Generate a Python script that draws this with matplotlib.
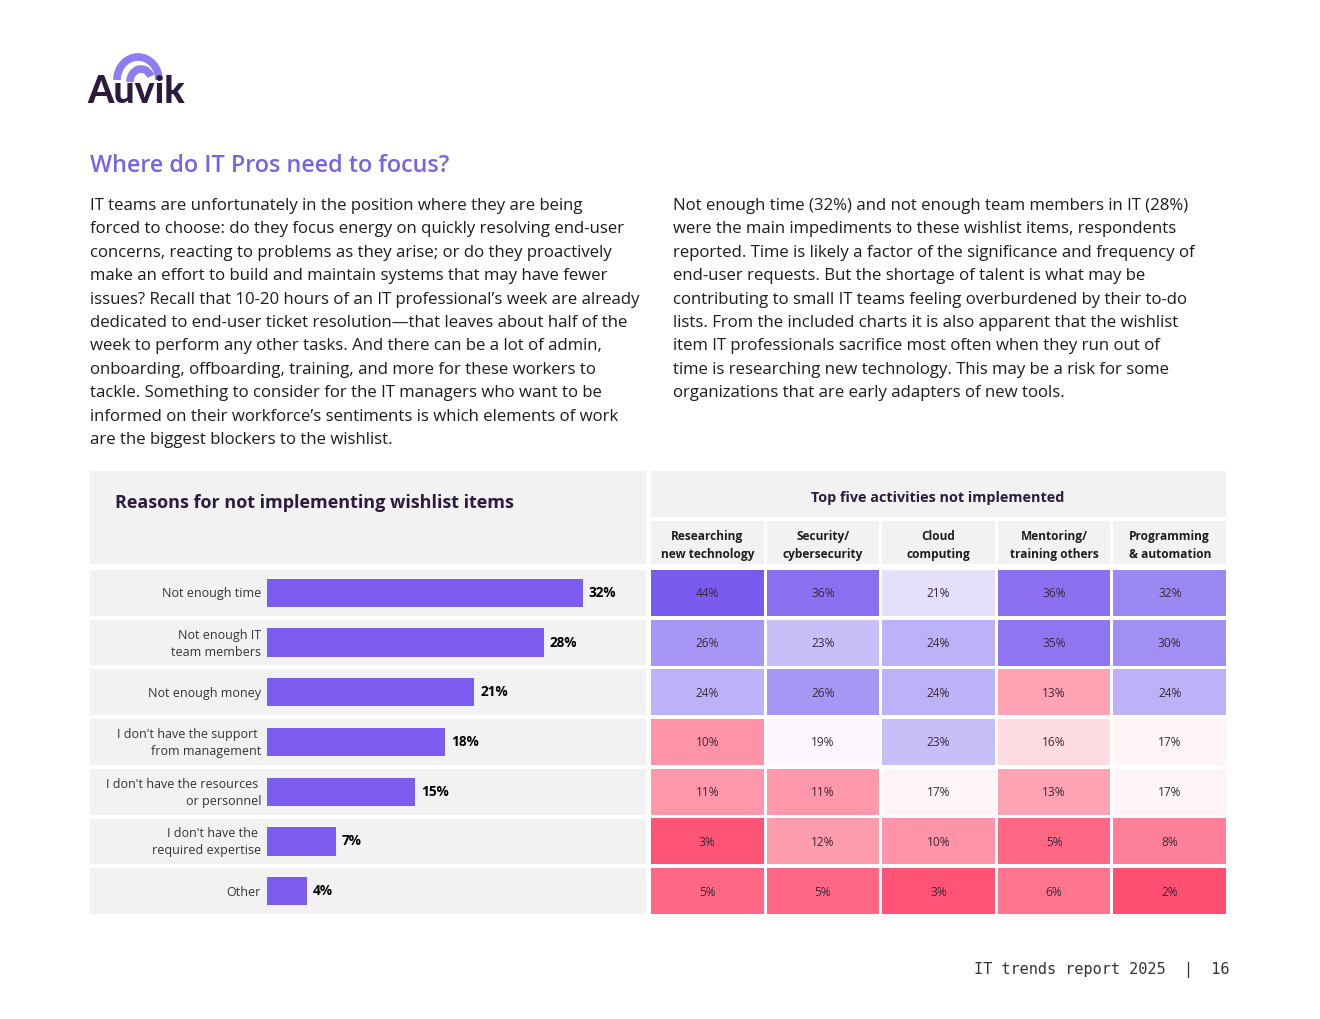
import numpy as np
import matplotlib
matplotlib.use('Agg')
import matplotlib.pyplot as plt
from matplotlib.colors import LinearSegmentedColormap, TwoSlopeNorm
from matplotlib.patches import Rectangle, Arc

# ---- data ----
reasons = ['Not enough time', 'Not enough IT\nteam members', 'Not enough money',
           "I don't have the support \nfrom management",
           "I don't have the resources \nor personnel",
           "I don't have the \nrequired expertise", 'Other']
reason_pct = [32, 28, 21, 18, 15, 7, 4]

activities = ['Researching\nnew technology', 'Security/\ncybersecurity', 'Cloud\ncomputing',
              'Mentoring/\ntraining others', 'Programming\n& automation']
research_pct = [44, 26, 24, 10, 11, 3, 5]
security_pct = [36, 23, 26, 19, 11, 12, 5]
cloud_pct = [21, 24, 24, 23, 17, 10, 3]
mentoring_pct = [36, 35, 13, 16, 13, 5, 6]
programming_pct = [32, 30, 24, 17, 17, 8, 2]

heading = 'Where do IT Pros need to focus?'
left_text = [
    "IT teams are unfortunately in the position where they are being",
    "forced to choose: do they focus energy on quickly resolving end-user",
    "concerns, reacting to problems as they arise; or do they proactively",
    "make an effort to build and maintain systems that may have fewer",
    "issues? Recall that 10-20 hours of an IT professional\u2019s week are already",
    "dedicated to end-user ticket resolution\u2014that leaves about half of the",
    "week to perform any other tasks. And there can be a lot of admin,",
    "onboarding, offboarding, training, and more for these workers to",
    "tackle. Something to consider for the IT managers who want to be",
    "informed on their workforce\u2019s sentiments is which elements of work",
    "are the biggest blockers to the wishlist.",
]
right_text = [
    "Not enough time (32%) and not enough team members in IT (28%)",
    "were the main impediments to these wishlist items, respondents",
    "reported. Time is likely a factor of the significance and frequency of",
    "end-user requests. But the shortage of talent is what may be",
    "contributing to small IT teams feeling overburdened by their to-do",
    "lists. From the included charts it is also apparent that the wishlist",
    "item IT professionals sacrifice most often when they run out of",
    "time is researching new technology. This may be a risk for some",
    "organizations that are early adapters of new tools.",
]

PURPLE = '#7b5cef'
DARK = '#2d1b3d'
GRAY = '#f2f2f2'
FONT = 'Open Sans'

W, H = 1320, 1020
fig = plt.figure(figsize=(W / 100, H / 100), dpi=100)
fig.patch.set_facecolor('white')


def ax_rect(left, top, right, bottom):
    return [left / W, 1 - bottom / H, (right - left) / W, (bottom - top) / H]


# page layer in pixel coordinates
ax0 = fig.add_axes([0, 0, 1, 1])
ax0.set_xlim(0, W)
ax0.set_ylim(H, 0)
ax0.axis('off')

# logo
ax0.add_patch(Arc((138, 81), 42, 46, theta1=180, theta2=360, color='#8f7cf0', lw=5.5))
ax0.add_patch(Arc((141, 83), 22, 26, theta1=180, theta2=330, color='#8f7cf0', lw=5.5))
ax0.text(87, 103, 'Auvik', fontsize=27, fontweight='black', family='Lato',
         color=DARK, ha='left', va='baseline')

ax0.text(90, 166, heading, fontsize=16.8, fontweight='semibold', family=FONT,
         color='#7a62e6', ha='left', va='center')

for i, line in enumerate(left_text):
    ax0.text(90, 206 + i * 23.4, line, fontsize=12.1, family=FONT, color='#1c1c1c',
             ha='left', va='center')
for i, line in enumerate(right_text):
    ax0.text(673, 206 + i * 23.4, line, fontsize=12.1, family=FONT, color='#1c1c1c',
             ha='left', va='center')

# panel backgrounds
ax0.add_patch(Rectangle((90, 472), 556, 93, color=GRAY, lw=0))
ax0.text(115, 503, 'Reasons for not implementing wishlist items', fontsize=13,
         fontweight='bold', family=FONT, color=DARK, ha='left', va='center')
ax0.add_patch(Rectangle((651, 472), 575, 46, color=GRAY, lw=0))
ax0.text(938, 498, 'Top five activities not implemented', fontsize=10.4,
         fontweight='bold', family=FONT, color=DARK, ha='center', va='center')

pitch = 115.6
cell_w = 112.6
for j, name in enumerate(activities):
    x0 = 651 + j * pitch
    ax0.add_patch(Rectangle((x0, 522), cell_w, 43, color=GRAY, lw=0))
    ax0.text(x0 + cell_w / 2, 545.5, name, fontsize=8.6, fontweight='bold', family=FONT,
             color='#1e1e1e', ha='center', va='center', linespacing=1.5)

ax0.text(1229, 970, 'IT trends report 2025  |  16', fontsize=11, family='DejaVu Sans Mono',
         color='#333333', ha='right', va='center')

# ---- bar chart ----
n = len(reasons)
axb = fig.add_axes(ax_rect(90, 569, 646, 917))
axb.set_xlim(-(267 - 90) / 9.875, (646 - 267) / 9.875)
axb.set_ylim(n - 0.5, -0.5)
axb.axis('off')
rows = np.arange(n)
for r in rows:
    axb.axhspan(r - 0.46, r + 0.46, color=GRAY, lw=0, zorder=0)
axb.barh(rows, reason_pct, height=0.57, color=PURPLE, zorder=2)
for r, (lab, v) in enumerate(zip(reasons, reason_pct)):
    axb.text(-0.6, r, lab, ha='right', va='center', fontsize=9, family=FONT,
             color='#333333', linespacing=1.4)
    axb.text(v + 0.6, r - 0.02, f'{v}%', ha='left', va='center', fontsize=9.8,
             fontweight='bold', family=FONT, color='black')

# ---- heatmap ----
cols = [research_pct, security_pct, cloud_pct, mentoring_pct, programming_pct]
cmap = LinearSegmentedColormap.from_list('pinkpurple', [
    (0.0, '#ff5072'), (0.06, '#ff5878'), (0.125, '#ff7590'), (0.19, '#ff8098'),
    (0.25, '#ff94a8'), (0.33, '#ff9eb0'), (0.38, '#ffb0bf'), (0.44, '#ffdce2'),
    (0.47, '#fff5f6'), (0.5, '#fff8f8'), (0.52, '#fbf7fd'), (0.558, '#e4defc'),
    (0.596, '#c8bff8'), (0.615, '#bcb2f7'), (0.654, '#a896f4'), (0.73, '#a290f3'),
    (0.77, '#9c88f2'), (0.846, '#8a70f1'), (1.0, '#7a5bef')])
all_vals = np.array(cols, dtype=float)
norm = TwoSlopeNorm(vmin=all_vals.min(), vcenter=18, vmax=all_vals.max())

half = cell_w / pitch / 2
axh = fig.add_axes(ax_rect(651, 569, 1226, 917))
axh.set_xlim(-half, -half + 575 / pitch)
axh.set_ylim(n - 0.5, -0.5)
axh.axis('off')
for j, col in enumerate(cols):
    colors = cmap(norm(np.array(col, dtype=float)))
    axh.bar(np.full(n, j), np.full(n, 0.925), bottom=rows - 0.4625,
            width=cell_w / pitch, color=colors, lw=0, align='center')
    for r, v in enumerate(col):
        axh.text(j, r, f'{v}%', ha='center', va='center', fontsize=8.6, family=FONT,
                 color='#3a2838')

fig.savefig('out.png', dpi=100, facecolor='white')
